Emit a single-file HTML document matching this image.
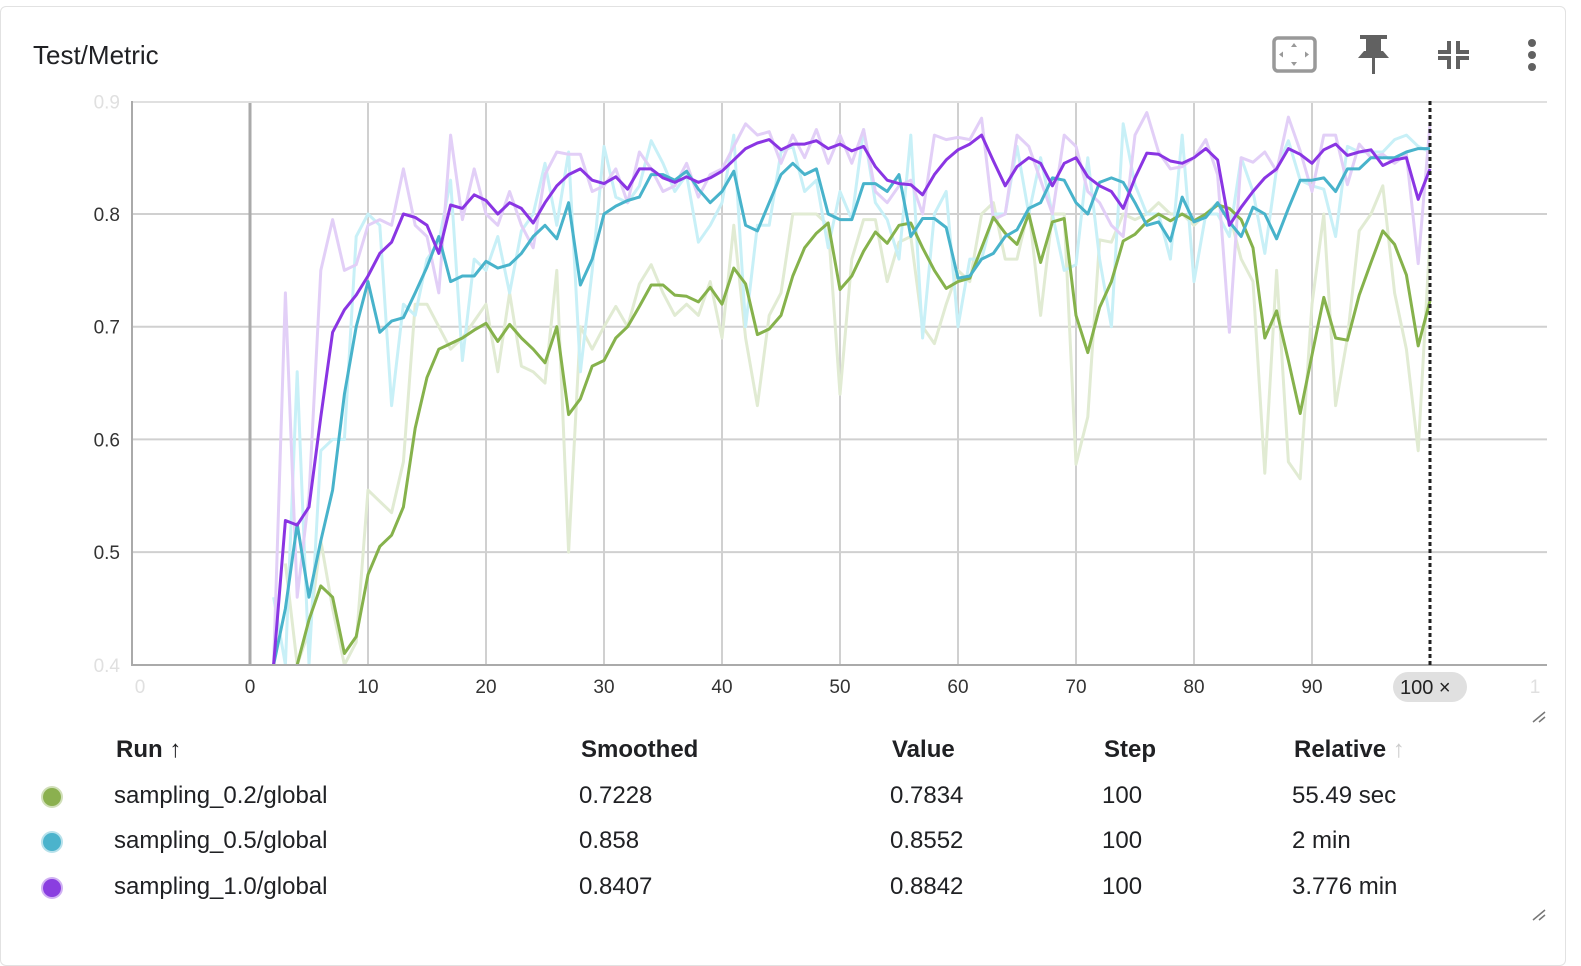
<!DOCTYPE html>
<html><head><meta charset="utf-8">
<style>
body{margin:0;width:1581px;height:957px;background:#fff;font-family:"Liberation Sans",Arial,sans-serif;overflow:hidden;position:relative}
.card{position:absolute;left:0;top:6px;width:1566px;height:960px;border:1px solid #e2e2e2;border-radius:6px;box-sizing:border-box}
.t{position:absolute;font-size:24px;color:#202124;white-space:nowrap}
.h{font-weight:bold}
.dot{position:absolute;width:22px;height:22px;border-radius:50%;box-sizing:border-box;border:2px solid rgba(255,255,255,0.6)}
</style></head>
<body>
<div class="card"></div>
<div class="t" style="left:33px;top:40px;font-size:26px">Test/Metric</div>
<svg width="1581" height="957" style="position:absolute;left:0;top:0" id="svg">
  <g>
    <rect x="1274" y="38" width="41" height="33" rx="4" fill="none" stroke="#999" stroke-width="3.5"/>
    <path d="M1294 43l-3 4h6zM1294 66l-3-4h6zM1279 54.5l4-3v6zM1309 54.5l-4-3v6z" fill="#999"/>
  </g>
  <g fill="#616161">
    <rect x="1360" y="35" width="27" height="4"/><rect x="1366" y="37" width="15" height="16"/>
    <path d="M1358 58h31l-6-7h-19z"/><rect x="1372" y="57" width="3" height="17"/>
  </g>
  <g fill="none" stroke="#616161" stroke-width="4">
    <path d="M1449 41v11h-11M1458 41v11h11M1449 69v-11h-11M1458 69v-11h11"/>
  </g>
  <g fill="#616161">
    <circle cx="1532" cy="43" r="4"/><circle cx="1532" cy="55" r="4"/><circle cx="1532" cy="67" r="4"/>
  </g>
  <g id="grid"></g>
  <g id="plot" clip-path="url(#clip)"></g>
  <defs><clipPath id="clip"><rect x="132" y="101" width="1415" height="564"/></clipPath></defs>
  <g id="axes"></g>
  <path d="M1533 722l12-10M1539 722l6-5" stroke="#777" stroke-width="1.5"/>
  <path d="M1533 920l12-10M1539 920l6-5" stroke="#777" stroke-width="1.5"/>
</svg>

<div class="t h" style="left:116px;top:736px">Run ↑</div>
<div class="t h" style="left:581px;top:736px">Smoothed</div>
<div class="t h" style="left:892px;top:736px">Value</div>
<div class="t h" style="left:1104px;top:736px">Step</div>
<div class="t h" style="left:1294px;top:736px">Relative <span style="color:#ccc;font-weight:normal">↑</span></div>

<div class="dot" style="left:41px;top:786px;background:#8bb04f"></div>
<div class="t" style="left:114px;top:782px">sampling_0.2/global</div>
<div class="t" style="left:579px;top:782px">0.7228</div>
<div class="t" style="left:890px;top:782px">0.7834</div>
<div class="t" style="left:1102px;top:782px">100</div>
<div class="t" style="left:1292px;top:782px">55.49 sec</div>

<div class="dot" style="left:41px;top:831px;background:#4bb3cc"></div>
<div class="t" style="left:114px;top:827px">sampling_0.5/global</div>
<div class="t" style="left:579px;top:827px">0.858</div>
<div class="t" style="left:890px;top:827px">0.8552</div>
<div class="t" style="left:1102px;top:827px">100</div>
<div class="t" style="left:1292px;top:827px">2 min</div>

<div class="dot" style="left:41px;top:877px;background:#8a3ee0"></div>
<div class="t" style="left:114px;top:873px">sampling_1.0/global</div>
<div class="t" style="left:579px;top:873px">0.8407</div>
<div class="t" style="left:890px;top:873px">0.8842</div>
<div class="t" style="left:1102px;top:873px">100</div>
<div class="t" style="left:1292px;top:873px">3.776 min</div>

<script>
const yTicks=[0.4,0.5,0.6,0.7,0.8,0.9];
const xTicks=[0,10,20,30,40,50,60,70,80,90];
const greenStart=3;
const greenRaw=[0.49,0.40,0.43,0.51,0.45,0.40,0.42,0.555,0.545,0.535,0.58,0.72,0.72,0.70,0.68,0.69,0.705,0.72,0.66,0.73,0.665,0.66,0.65,0.75,0.50,0.70,0.68,0.70,0.718,0.70,0.738,0.755,0.73,0.71,0.72,0.71,0.74,0.69,0.79,0.69,0.63,0.71,0.73,0.80,0.80,0.80,0.79,0.64,0.76,0.795,0.795,0.74,0.775,0.78,0.70,0.685,0.72,0.75,0.74,0.80,0.81,0.76,0.76,0.805,0.71,0.80,0.80,0.578,0.62,0.777,0.775,0.80,0.795,0.80,0.81,0.80,0.80,0.79,0.80,0.81,0.80,0.76,0.74,0.57,0.75,0.58,0.565,0.72,0.80,0.63,0.69,0.785,0.80,0.825,0.73,0.68,0.59,0.78];
const greenSmooth=[0.38,0.40,0.44,0.47,0.46,0.41,0.425,0.48,0.505,0.515,0.54,0.61,0.655,0.68,0.685,0.69,0.697,0.703,0.687,0.702,0.69,0.68,0.668,0.70,0.622,0.636,0.665,0.67,0.69,0.70,0.718,0.737,0.737,0.728,0.727,0.722,0.735,0.72,0.752,0.738,0.693,0.698,0.71,0.745,0.77,0.783,0.792,0.733,0.745,0.767,0.784,0.774,0.79,0.792,0.77,0.75,0.734,0.74,0.743,0.77,0.797,0.783,0.773,0.80,0.757,0.793,0.796,0.71,0.677,0.717,0.74,0.776,0.782,0.793,0.80,0.794,0.80,0.794,0.80,0.808,0.805,0.795,0.77,0.69,0.714,0.67,0.623,0.675,0.726,0.69,0.688,0.728,0.757,0.785,0.773,0.746,0.683,0.723];
const cyanStart=2;
const cyanRaw=[0.46,0.40,0.66,0.40,0.59,0.60,0.60,0.78,0.80,0.79,0.63,0.72,0.71,0.76,0.775,0.83,0.67,0.76,0.75,0.78,0.73,0.785,0.80,0.845,0.79,0.855,0.66,0.75,0.86,0.815,0.81,0.825,0.865,0.845,0.82,0.835,0.775,0.79,0.81,0.87,0.70,0.79,0.79,0.855,0.86,0.82,0.83,0.77,0.82,0.795,0.875,0.81,0.795,0.76,0.87,0.69,0.80,0.82,0.70,0.76,0.76,0.80,0.80,0.86,0.80,0.85,0.80,0.75,0.755,0.85,0.76,0.70,0.88,0.826,0.80,0.80,0.76,0.87,0.74,0.80,0.80,0.78,0.85,0.82,0.765,0.84,0.865,0.83,0.825,0.822,0.78,0.86,0.855,0.855,0.855,0.866,0.87,0.86,0.855];
const cyanSmooth=[0.40,0.45,0.525,0.46,0.51,0.555,0.64,0.70,0.74,0.695,0.705,0.708,0.73,0.753,0.78,0.74,0.745,0.745,0.758,0.752,0.755,0.765,0.78,0.79,0.778,0.81,0.737,0.76,0.80,0.807,0.812,0.815,0.835,0.835,0.83,0.838,0.822,0.81,0.82,0.838,0.79,0.785,0.81,0.835,0.845,0.835,0.84,0.80,0.795,0.795,0.827,0.827,0.82,0.835,0.78,0.796,0.796,0.788,0.743,0.745,0.76,0.765,0.78,0.786,0.805,0.81,0.832,0.83,0.81,0.80,0.828,0.832,0.828,0.81,0.79,0.793,0.776,0.815,0.793,0.797,0.81,0.793,0.78,0.806,0.80,0.778,0.805,0.83,0.83,0.832,0.82,0.84,0.84,0.85,0.85,0.85,0.855,0.858,0.858];
const purpleStart=2;
const purpleRaw=[0.40,0.73,0.46,0.55,0.75,0.795,0.75,0.755,0.79,0.795,0.79,0.84,0.79,0.78,0.73,0.87,0.795,0.84,0.80,0.79,0.82,0.79,0.77,0.835,0.855,0.853,0.853,0.82,0.825,0.84,0.81,0.855,0.84,0.82,0.825,0.845,0.815,0.835,0.84,0.86,0.88,0.87,0.873,0.845,0.87,0.85,0.875,0.845,0.87,0.845,0.875,0.82,0.81,0.825,0.83,0.80,0.87,0.866,0.868,0.866,0.885,0.795,0.80,0.87,0.86,0.83,0.80,0.87,0.86,0.82,0.81,0.79,0.78,0.87,0.89,0.855,0.84,0.842,0.85,0.866,0.835,0.695,0.85,0.846,0.855,0.838,0.886,0.856,0.82,0.87,0.87,0.826,0.862,0.85,0.853,0.845,0.853,0.756,0.88];
const purpleSmooth=[0.40,0.528,0.524,0.54,0.62,0.695,0.715,0.728,0.745,0.765,0.775,0.80,0.797,0.79,0.765,0.808,0.805,0.817,0.812,0.80,0.81,0.805,0.792,0.81,0.825,0.835,0.84,0.83,0.827,0.833,0.822,0.84,0.84,0.832,0.828,0.833,0.828,0.832,0.838,0.848,0.858,0.863,0.866,0.857,0.862,0.862,0.865,0.858,0.862,0.856,0.86,0.842,0.83,0.827,0.826,0.817,0.835,0.848,0.857,0.862,0.87,0.847,0.825,0.842,0.85,0.845,0.825,0.845,0.85,0.833,0.825,0.82,0.805,0.832,0.854,0.853,0.847,0.845,0.85,0.858,0.848,0.79,0.806,0.82,0.832,0.84,0.858,0.853,0.845,0.857,0.862,0.852,0.855,0.857,0.843,0.848,0.85,0.813,0.84];

const NS='http://www.w3.org/2000/svg';
const sx=s=>250+11.8*s;
const sy=v=>214-(v-0.8)*1127;
const gridG=document.getElementById('grid'),plotG=document.getElementById('plot'),axesG=document.getElementById('axes');
function mk(tag,attrs,parent){const e=document.createElementNS(NS,tag);for(const k in attrs)e.setAttribute(k,attrs[k]);parent.appendChild(e);return e;}
yTicks.forEach(v=>{
  const y=sy(v);
  if(v>0.45&&v<0.85){const l=mk('line',{x1:132,x2:1547,y1:y,y2:y,stroke:'#d0d0d0','stroke-width':2},gridG);
  
  }
  const t=mk('text',{x:120,y:y+7,'text-anchor':'end','font-size':19,fill:(v<0.45||v>0.85)?'#e0e0e0':'#333','font-family':'Liberation Sans, sans-serif'},axesG);
  t.textContent=v.toFixed(1);
  
  
});
xTicks.forEach(s=>{
  const x=sx(s);
  const l=mk('line',{x1:x,x2:x,y1:101,y2:665,stroke:s===0?'#aaa':'#d0d0d0','stroke-width':s===0?3:2},gridG);
  
  
  const t=mk('text',{x:x,y:693,'text-anchor':'middle','font-size':19,fill:'#333','font-family':'Liberation Sans, sans-serif'},axesG);
  t.textContent=s;
  
  
});
[['0',140],['1',1535]].forEach(([s,x])=>{const t=mk('text',{x:x,y:693,'text-anchor':'middle','font-size':19,fill:'#e0e0e0','font-family':'Liberation Sans, sans-serif'},axesG);t.textContent=s;

});
const axLine=mk('path',{d:'M132 101V665H1547',fill:'none',stroke:'#aaa','stroke-width':2},axesG);


const topBorder=mk('line',{x1:132,x2:1547,y1:102,y2:102,stroke:'#e0e0e0','stroke-width':2},gridG);


function series(arr,start,color,w,name){
  const d=arr.map((v,i)=>(i?'L':'M')+sx(start+i).toFixed(1)+' '+sy(v).toFixed(1)).join('');
  const p=mk('path',{d:d,fill:'none',stroke:color,'stroke-width':w,'stroke-linejoin':'round'},plotG);
  
  
}
series(greenRaw,greenStart,'#e1ebd3',3,'raw-line-0.2');
series(cyanRaw,cyanStart,'#c8f0f7',3,'raw-line-0.5');
series(purpleRaw,purpleStart,'#e2cff7',3,'raw-line-1.0');
series(greenSmooth,greenStart,'#86b24c',3,'smoothed-line-0.2');
series(cyanSmooth,cyanStart,'#48b3cb',3,'smoothed-line-0.5');
series(purpleSmooth,purpleStart,'#8a35e3',3,'smoothed-line-1.0');
const cursorLine=mk('line',{x1:sx(100),x2:sx(100),y1:101,y2:665,stroke:'#222','stroke-width':3,'stroke-dasharray':'4 3'},axesG);


const pill=mk('rect',{x:1393,y:672,width:74,height:30,rx:15,fill:'#e0e0e0'},axesG);


const pillText=mk('text',{x:1400,y:694,'font-size':20,fill:'#222','font-family':'Liberation Sans, sans-serif'},axesG);
pillText.textContent='100 ×';


</script>
</body></html>
